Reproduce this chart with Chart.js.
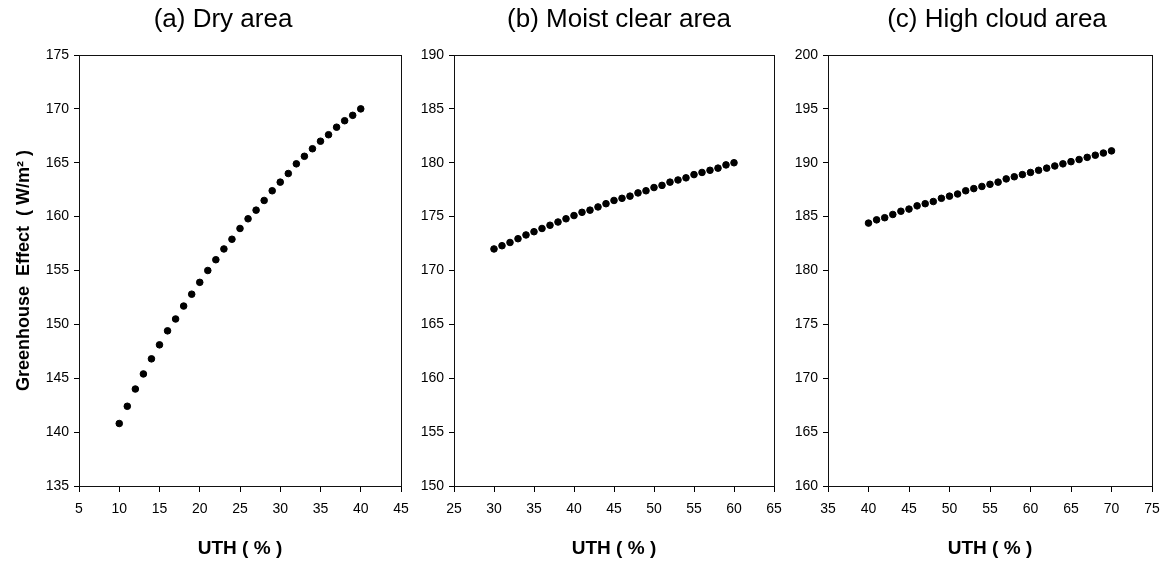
<!DOCTYPE html>
<html>
<head>
<meta charset="utf-8">
<script src="https://cdn.jsdelivr.net/npm/chart.js@4.4.1/dist/chart.umd.min.js"></script>
<style>
  html, body { margin: 0; padding: 0; background: #fff; overflow: hidden; }
  #wrap { position: relative; width: 1163px; height: 565px; overflow: hidden; }
  .panel { position: absolute; top: 0; height: 565px; }
</style>
</head>
<body>
<div id="wrap">
  <div class="panel" style="left:0;width:418px"><canvas id="chartA"></canvas></div>
  <div class="panel" style="left:415px;width:376px"><canvas id="chartB"></canvas></div>
  <div class="panel" style="left:785px;width:384px"><canvas id="chartC"></canvas></div>
</div>
<script>
// UTH (%) values for each panel
const uthDry = [10, 11, 12, 13, 14, 15, 16, 17, 18, 19, 20, 21, 22, 23, 24, 25,
  26, 27, 28, 29, 30, 31, 32, 33, 34, 35, 36, 37, 38, 39, 40];
const uthMoist = [30, 31, 32, 33, 34, 35, 36, 37, 38, 39, 40, 41, 42, 43, 44, 45,
  46, 47, 48, 49, 50, 51, 52, 53, 54, 55, 56, 57, 58, 59, 60];
const uthCloud = [40, 41, 42, 43, 44, 45, 46, 47, 48, 49, 50, 51, 52, 53, 54, 55,
  56, 57, 58, 59, 60, 61, 62, 63, 64, 65, 66, 67, 68, 69, 70];

// greenhouse effect (W/m2)
const geDry = [140.8, 142.4, 144.0, 145.4, 146.8, 148.1, 149.4, 150.5, 151.7, 152.8,
  153.9, 155.0, 156.0, 157.0, 157.9, 158.9, 159.8, 160.6, 161.5, 162.4,
  163.2, 164.0, 164.9, 165.6, 166.3, 167.0, 167.6, 168.3, 168.9, 169.4, 170.0];
const geMoist = [172.0, 172.3, 172.6, 172.95, 173.3, 173.6, 173.9, 174.2, 174.5, 174.8,
  175.1, 175.4, 175.6, 175.9, 176.2, 176.5, 176.7, 176.9, 177.2, 177.4,
  177.7, 177.9, 178.2, 178.4, 178.6, 178.9, 179.1, 179.3, 179.5, 179.8, 180.0];
const geCloud = [184.4, 184.7, 184.9, 185.2, 185.5, 185.7, 186.0, 186.2, 186.4, 186.7,
  186.9, 187.1, 187.4, 187.6, 187.8, 188.0, 188.2, 188.5, 188.7, 188.9,
  189.1, 189.3, 189.5, 189.7, 189.9, 190.1, 190.3, 190.5, 190.7, 190.9, 191.1];

// axis ranges
const xRanges = [[5, 45], [25, 65], [35, 75]];
const yRanges = [[135, 175], [150, 190], [160, 200]];
const panelTitles = ["(a) Dry area", "(b) Moist clear area", "(c) High cloud area"];

const FONT = "'Liberation Sans', Arial, Helvetica, sans-serif";

// draws the box round the plot and the panel title
const frame = {
  id: "frame",
  afterDraw(chart, args, opts) {
    const { ctx, chartArea: a } = chart;
    ctx.save();
    ctx.strokeStyle = "#111";
    ctx.lineWidth = 1;
    ctx.strokeRect(Math.round(a.left) + 0.5, Math.round(a.top) + 0.5,
      Math.round(a.right - a.left), Math.round(a.bottom - a.top));
    ctx.fillStyle = "#000";
    ctx.font = "26px " + FONT;
    ctx.textAlign = "center";
    ctx.textBaseline = "alphabetic";
    ctx.fillText(opts.text, (a.left + a.right) / 2 + opts.dx, 27);
    ctx.restore();
  },
};

function makePanel(id, xs, ys, i, yWidth, dx, showYTitle) {
  const pts = xs.map((x, k) => ({ x: x, y: ys[k] }));
  return new Chart(document.getElementById(id), {
    type: "scatter",
    data: {
      datasets: [{
        data: pts,
        backgroundColor: "#000",
        borderColor: "#000",
        pointRadius: 3.3,
        pointHoverRadius: 3.3,
      }],
    },
    options: {
      responsive: true,
      maintainAspectRatio: false,
      animation: false,
      events: [],
      layout: { padding: { top: 55, right: 17, bottom: 0, left: 0 } },
      plugins: {
        legend: { display: false },
        tooltip: { enabled: false },
        frame: { text: panelTitles[i], dx: dx },
      },
      scales: {
        x: {
          type: "linear",
          min: xRanges[i][0],
          max: xRanges[i][1],
          afterFit: (s) => { s.height = 79; },
          grid: { drawOnChartArea: false, drawTicks: true, tickLength: 6, color: "#000" },
          border: { display: true, color: "#111" },
          ticks: { stepSize: 5, color: "#000", padding: 9, font: { family: FONT, size: 14 } },
          title: {
            display: true,
            text: "UTH ( % )",
            color: "#000",
            font: { family: FONT, size: 19, weight: "bold" },
            padding: { top: 0, bottom: 5 },
          },
        },
        y: {
          type: "linear",
          min: yRanges[i][0],
          max: yRanges[i][1],
          afterFit: (s) => { s.width = yWidth; },
          grid: { drawOnChartArea: false, drawTicks: true, tickLength: 5, color: "#000" },
          border: { display: true, color: "#111" },
          ticks: { stepSize: 5, color: "#000", padding: 5, font: { family: FONT, size: 14 } },
          title: {
            display: showYTitle,
            text: "Greenhouse  Effect  ( W/m² )",
            color: "#000",
            font: { family: FONT, size: 18, weight: "bold" },
            padding: { top: 13, bottom: 0 },
          },
        },
      },
    },
    plugins: [frame],
  });
}

makePanel("chartA", uthDry, geDry, 0, 79, -17, true);
makePanel("chartB", uthMoist, geMoist, 1, 39, 5, false);
makePanel("chartC", uthCloud, geCloud, 2, 43, 7, false);
</script>
</body>
</html>
